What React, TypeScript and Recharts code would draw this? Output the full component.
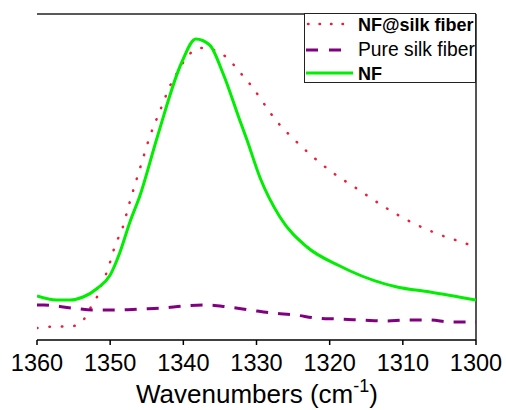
import React from 'react';
import { LineChart, Line, XAxis, YAxis, ReferenceLine } from 'recharts';

// Wavenumber (cm-1), intensity (a.u.)
const nfSilkFiber: [number, number][] = [
  [1360, 12], [1359.4, 12], [1357.5, 14], [1355.8, 13], [1353.9, 18], [1352.8, 31],
  [1351.8, 43], [1351.2, 55], [1350.4, 69], [1349.2, 97], [1348.4, 110], [1347.4, 136],
  [1345.7, 177], [1344.6, 203], [1343.2, 229], [1341.7, 256], [1340.7, 269], [1339.5, 283],
  [1337.6, 292], [1335.8, 290], [1334, 282], [1332.3, 268], [1330.8, 255], [1329.5, 242],
  [1328.2, 228], [1326.8, 215], [1325.2, 203], [1319.7, 168], [1316.2, 151], [1312.5, 133],
  [1308.9, 118], [1305.2, 106], [1301.6, 97], [1300, 93],
];

const pureSilkFiber: [number, number][] = [
  [1360, 35], [1359.1, 35], [1355.3, 32], [1352.3, 30], [1349.1, 30], [1345.9, 31],
  [1342.7, 32], [1340, 34], [1337, 35], [1333.9, 33], [1330.9, 30], [1327.9, 27],
  [1324.7, 25], [1321.8, 22], [1319, 21], [1315.6, 20], [1312.4, 19], [1309.5, 20],
  [1306.5, 20], [1303.3, 18], [1300, 18],
];

const nf: [number, number][] = [
  [1360, 44], [1357.3, 40], [1355.5, 40], [1353.7, 43], [1351.7, 52], [1350, 65],
  [1348.7, 87], [1347.3, 118], [1345.9, 145], [1343.6, 202], [1340.2, 278], [1338.3, 301],
  [1336.4, 295], [1334.6, 267], [1332.3, 220], [1331.3, 200], [1329.5, 162], [1326.8, 123],
  [1323.1, 93], [1318.6, 74], [1317.2, 69], [1310.8, 53], [1306.3, 48], [1300, 40],
];

const xTicks = [1360, 1350, 1340, 1330, 1320, 1310, 1300];
const seriesNames = ['NF@silk fiber', 'Pure silk fiber', 'NF'];

const toRows = (arr: [number, number][]) => arr.map(([w, v]) => ({ w, v }));

const FONT = 'Liberation Sans, Arial, sans-serif';

const LegendBox = () => (
  <div
    style={{
      position: 'absolute',
      left: 304,
      top: 13,
      width: 170,
      height: 68,
      border: '1px solid #222',
      background: '#fff',
      fontFamily: FONT,
    }}
  >
    <svg width={170} height={68} style={{ position: 'absolute', left: 0, top: 0 }}>
      <line x1={3} x2={47} y1={10} y2={10} stroke="#e8203a" strokeWidth={2.5}
        strokeDasharray="0.5 11" strokeLinecap="round" />
      <line x1={1} x2={47} y1={36} y2={36} stroke="#800080" strokeWidth={3}
        strokeDasharray="12 11" />
      <line x1={1} x2={48} y1={59} y2={59} stroke="#00ee00" strokeWidth={3} />
      <text x={53} y={16.5} fontSize={18} fontWeight="bold" fill="#000">{seriesNames[0]}</text>
      <text x={53} y={42} fontSize={19.3} fill="#000">{seriesNames[1]}</text>
      <text x={53} y={65.5} fontSize={18} fontWeight="bold" fill="#000">{seriesNames[2]}</text>
    </svg>
  </div>
);

export default function App() {
  return (
    <div style={{ position: 'absolute', left: 0, top: 0, width: 506, height: 410, background: '#fff' }}>
      <LineChart
        width={506}
        height={410}
        margin={{ top: 14, right: 30, bottom: 0, left: 37 }}
      >
        <XAxis
          dataKey="w"
          type="number"
          domain={[1300, 1360]}
          reversed
          ticks={xTicks}
          allowDataOverflow
          height={70}
          tickSize={5}
          tickMargin={9}
          tick={{ fontSize: 23.5, fill: '#000', fontFamily: FONT }}
          axisLine={{ stroke: '#000', strokeWidth: 1.5 }}
          tickLine={{ stroke: '#000', strokeWidth: 1.5 }}
          label={{
            content: () => (
              <text x={257} y={403} textAnchor="middle" fontSize={26} fontFamily={FONT} fill="#000">
                Wavenumbers (cm
                <tspan fontSize={18} dy={-11}>-1</tspan>
                <tspan dy={11}>)</tspan>
              </text>
            ),
          }}
        />
        <YAxis
          type="number"
          domain={[0, 326]}
          width={0}
          tick={false}
          tickLine={false}
          axisLine={{ stroke: '#666', strokeWidth: 2 }}
        />
        <ReferenceLine y={326} stroke="#222" strokeWidth={1.5} />
        <ReferenceLine x={1300} stroke="#555" strokeWidth={2} />
        <Line
          data={toRows(nfSilkFiber)}
          dataKey="v"
          name={seriesNames[0]}
          type="monotone"
          stroke="#e8203a"
          strokeWidth={2.5}
          strokeDasharray="0.5 12"
          strokeLinecap="round"
          dot={false}
          isAnimationActive={false}
        />
        <Line
          data={toRows(pureSilkFiber)}
          dataKey="v"
          name={seriesNames[1]}
          type="monotone"
          stroke="#800080"
          strokeWidth={3}
          strokeDasharray="12 10"
          dot={false}
          isAnimationActive={false}
        />
        <Line
          data={toRows(nf)}
          dataKey="v"
          name={seriesNames[2]}
          type="monotone"
          stroke="#00ee00"
          strokeWidth={3}
          dot={false}
          isAnimationActive={false}
        />
      </LineChart>
      <LegendBox />
    </div>
  );
}
